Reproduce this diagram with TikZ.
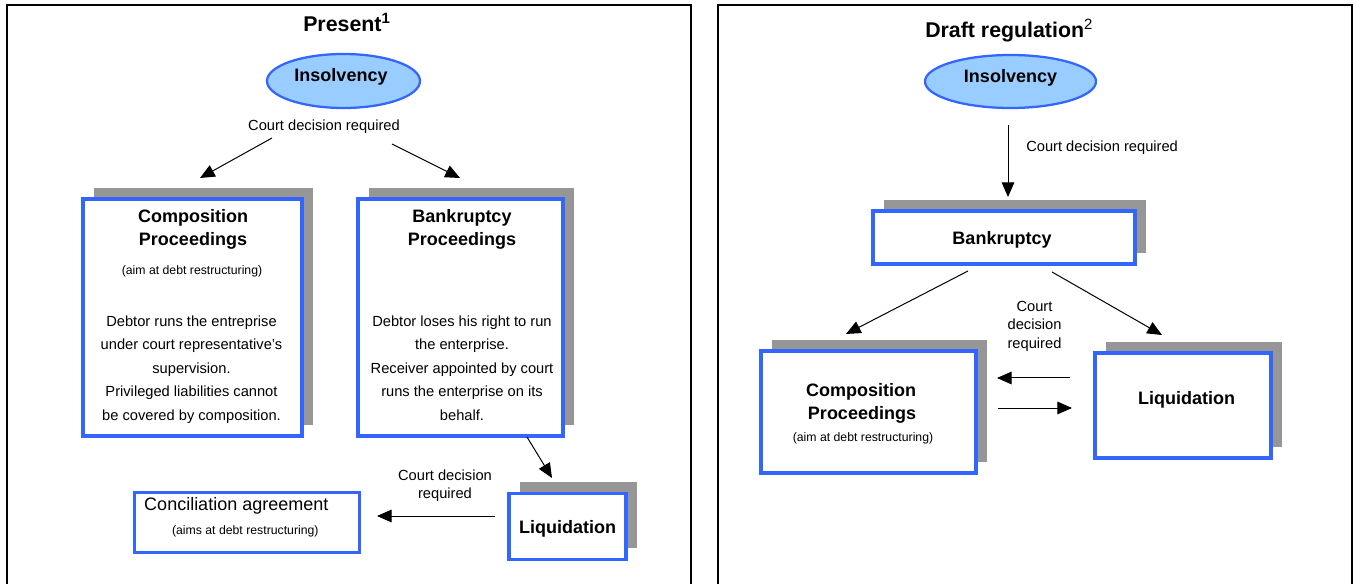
\documentclass[tikz,border=0pt]{standalone}
\usepackage{fontspec}
\setmainfont{Liberation Sans}
\usetikzlibrary{arrows.meta,shapes.geometric,shadows}
\definecolor{boxblue}{RGB}{51,102,255}
\definecolor{ellfill}{RGB}{153,204,255}
\definecolor{shadowgray}{RGB}{150,150,150}
\begin{document}
\begin{tikzpicture}[x=0.75pt,y=-0.75pt,
  plainbox/.style={rectangle, draw=boxblue, line width=2.3pt, fill=white, inner sep=0pt, outer sep=0pt},
  boxnode/.style={plainbox, general shadow={fill=shadowgray, shadow xshift=8.6pt, shadow yshift=8.3pt}},
  ell/.style={ellipse, draw=boxblue, line width=1.7pt, fill=ellfill, inner sep=0pt},
  txt/.style={inner sep=0pt, anchor=base},
  ttl/.style={txt, font=\fontsize{16}{18}\selectfont\bfseries},
  hd/.style={txt, font=\fontsize{13.5}{16}\selectfont\bfseries},
  body/.style={txt, font=\fontsize{11}{13}\selectfont},
  small/.style={txt, font=\fontsize{9.2}{11}\selectfont},
  big/.style={txt, font=\fontsize{13.5}{16}\selectfont},
  arr/.style={line width=0.75pt, -{Triangle[length=11pt,width=9.5pt]}},
  frame/.style={line width=1.5pt}
]
\useasboundingbox (0,0) rectangle (1356,584);
\clip (0,0) rectangle (1356,584);

% frames
\draw[frame] (7,700) -- (7,5) -- (691,5) -- (691,700);
\draw[frame] (717.5,700) -- (717.5,5) -- (1352,5) -- (1352,700);

% ---------------- left panel ----------------
\node[ttl, anchor=base west] (t1) at (303,32) {Present\textsuperscript{1}};
\node[ell, minimum width=114.75pt, minimum height=40.5pt] (ins1) at (343.5,81) {};
\node[hd] (ins1t) at (341,82) {Insolvency};
\node[body] (cd1) at (324,130.5) {Court decision required};

\node[boxnode, minimum width=164.25pt, minimum height=177.75pt] (comp1) at (192.5,317.5) {};
\node[hd] (comp1h1) at (193,222.7) {Composition};
\node[hd] (comp1h2) at (193,245.7) {Proceedings};
\node[small] (comp1s) at (192,275) {(aim at debt restructuring)};
\foreach \t [count=\i] in {Debtor runs the entreprise, under court representative's, supervision., Privileged liabilities cannot, be covered by composition.}
  \node[body] (comp1b\i) at (191.5,{326.5+23.4*(\i-1)}) {\t};

\node[boxnode, minimum width=153.75pt, minimum height=177.75pt] (bank1) at (460.5,317.5) {};
\node[hd] (bank1h1) at (462,222.7) {Bankruptcy};
\node[hd] (bank1h2) at (462,245.7) {Proceedings};
\foreach \t [count=\i] in {Debtor loses his right to run, the enterprise., Receiver appointed by court, runs the enterprise on its, behalf.}
  \node[body] (bank1b\i) at (462,{326.5+23.4*(\i-1)}) {\t};

\node[boxnode, minimum width=87.75pt, minimum height=49.5pt] (liq1) at (567.5,526.5) {};
\node[hd] (liq1t) at (567.7,533.3) {Liquidation};

\node[plainbox, minimum width=168.75pt, minimum height=45pt] (conc) at (247,522.5) {};
\node[big] (conct) at (236.3,510.7) {Conciliation agreement};
\node[small] (concs) at (245.3,534) {(aims at debt restructuring)};

\node[body] (cd2a) at (445,480) {Court decision};
\node[body] (cd2b) at (445,498) {required};

\coordinate (a1s) at (272,138); \coordinate (a1e) at (200,178);
\coordinate (a2s) at (392,144); \coordinate (a2e) at (460,178);
\coordinate (a3s) at (527,437); \coordinate (a3e) at (552,478);
\coordinate (a4s) at (495,516); \coordinate (a4e) at (377,516);
\draw[arr] (a1s) -- (a1e);
\draw[arr] (a2s) -- (a2e);
\draw[arr] (a3s) -- (a3e);
\draw[arr] (a4s) -- (a4e);

% ---------------- right panel ----------------
\node[ttl, anchor=base west] (t2) at (925,38) {Draft regulation\textsuperscript{\mdseries 2}};
\node[ell, minimum width=128.25pt, minimum height=39.75pt] (ins2) at (1010.5,81.5) {};
\node[hd] (ins2t) at (1010.5,82.5) {Insolvency};
\node[body, anchor=base west] (cd3) at (1026,151.5) {Court decision required};

\node[boxnode, minimum width=196.5pt, minimum height=39.75pt] (bank2) at (1004,237.5) {};
\node[hd] (bank2t) at (1002,245) {Bankruptcy};

\node[boxnode, minimum width=161.25pt, minimum height=91.5pt] (comp2) at (868.5,412) {};
\node[hd] (comp2h1) at (861,397) {Composition};
\node[hd] (comp2h2) at (862,419.3) {Proceedings};
\node[small] (comp2s) at (863,441.7) {(aim at debt restructuring)};

\node[boxnode, minimum width=132pt, minimum height=78.75pt] (liq2) at (1183,405.5) {};
\node[hd] (liq2t) at (1186.7,405) {Liquidation};

\node[body] (cd4a) at (1034.5,311.7) {Court};
\node[body] (cd4b) at (1034.5,330) {decision};
\node[body] (cd4c) at (1034.5,348.3) {required};

\coordinate (b1s) at (1008,125); \coordinate (b1e) at (1008,197);
\coordinate (b2s) at (968,271); \coordinate (b2e) at (846,334);
\coordinate (b3s) at (1052,272); \coordinate (b3e) at (1162,335);
\coordinate (b4s) at (1070,378); \coordinate (b4e) at (997,378);
\coordinate (b5s) at (998,408); \coordinate (b5e) at (1072,408);
\draw[arr] (b1s) -- (b1e);
\draw[arr] (b2s) -- (b2e);
\draw[arr] (b3s) -- (b3e);
\draw[arr] (b4s) -- (b4e);
\draw[arr] (b5s) -- (b5e);
\end{tikzpicture}
\end{document}
